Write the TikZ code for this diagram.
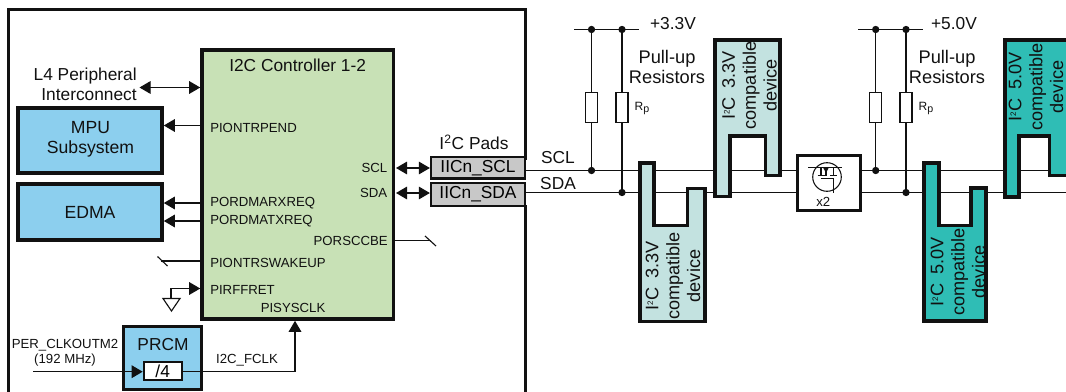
\documentclass[tikz,border=0pt]{standalone}
\usepackage{fontspec}
\setmainfont{Liberation Sans}
\usetikzlibrary{arrows.meta}
\definecolor{ctlgreen}{HTML}{C8E1B6}
\definecolor{subblue}{HTML}{8CCFEE}
\definecolor{padgray}{HTML}{C8C8C8}
\definecolor{devlight}{HTML}{C3E2E0}
\definecolor{devteal}{HTML}{2FBDB5}
\definecolor{ink}{HTML}{111111}
\newcommand\iicname{I\raisebox{0.55ex}{\fontsize{6}{6}\selectfont 2}C\hspace{0.5em}}
\tikzset{
  x=0.75pt,y=-0.75pt,
  thickbox/.style={draw=ink,line width=2.7pt},
  wire/.style={draw=ink,line width=0.85pt},
  thinwire/.style={draw=ink,line width=0.8pt},
  tip/.style={-{Triangle[length=8.3pt,width=9.5pt]}},
  dtip/.style={{Triangle[length=8.3pt,width=9.5pt]}-{Triangle[length=8.3pt,width=9.5pt]}},
  lbl/.style={inner sep=0pt,text=ink,font=\fontsize{13}{15}\selectfont,align=center},
  sig/.style={inner sep=0pt,text=ink,font=\fontsize{9.9}{11.6}\selectfont},
  dot/.style={circle,fill=ink,inner sep=0pt,minimum size=5.5pt},
  res/.style={draw=ink,line width=0.85pt,fill=white,minimum width=9pt,minimum height=22.5pt,inner sep=0pt},
  devtext/.style={inner sep=0pt,text=ink,rotate=90,font=\fontsize{13.6}{15.7}\selectfont,align=center},
  devbox/.style={draw=ink,line width=2.9pt},
  blockbox/.style={thickbox,fill=subblue,inner sep=0pt,minimum width=108pt},
  padbox/.style={draw=ink,line width=1.7pt,fill=padgray,minimum width=70.5pt,inner sep=0pt,font=\fontsize{13}{15}\selectfont},
  rplabel/.style={inner sep=0pt,text=ink,font=\fontsize{9}{10}\selectfont},
}
\begin{document}
\begin{tikzpicture}
\useasboundingbox (0,0) rectangle (1066,392);
\draw[draw=ink,line width=1.8pt] (8.3,392) -- (8.3,9.7) -- (525.6,9.7) -- (525.6,160);
\draw[draw=ink,line width=1.8pt] (525.6,205) -- (525.6,392);

% bus lines
\coordinate (sclL) at (526,170.5); \coordinate (sclR) at (1066,170.5);
\coordinate (sdaL) at (526,192.5); \coordinate (sdaR) at (1066,192.5);
\draw[wire] (sclL) -- (sclR);
\draw[wire] (sdaL) -- (sdaR);

% controller
\node[thickbox,fill=ctlgreen,minimum width=143.6pt,minimum height=201.75pt,inner sep=0pt] (ctl) at (297.75,184.5) {};
\node[lbl,anchor=west] (ctltitle) at (229,65.7) {I2C Controller 1-2};
\node[lbl,anchor=east,align=right] (l4) at (137,84) {L4 Peripheral\\Interconnect};
\coordinate (l4end) at (139.5,87.5);
\draw[wire,dtip] (l4end) -- (l4end -| ctl.west);

% MPU / EDMA
\node[blockbox,minimum height=48.75pt] (mpu) at (90,140.5) {};
\node[lbl,font=\fontsize{13.2}{15}\selectfont] (mputxt) at (90.5,139.5) {MPU\\Subsystem};
\node[blockbox,minimum height=42pt] (edma) at (90,212) {};
\node[lbl,font=\fontsize{13.2}{15}\selectfont] (edmatxt) at (90,212) {EDMA};
\coordinate (c1) at (ctl.west |- 0,125.5);
\coordinate (c2) at (ctl.west |- 0,203);
\coordinate (c3) at (ctl.west |- 0,221);
\draw[wire,tip] (c1) -- (c1 -| mpu.east);
\draw[wire,tip] (c2) -- (c2 -| edma.east);
\draw[wire,tip] (c3) -- (c3 -| edma.east);
\node[sig,anchor=west] (p1) at (210,128) {PIONTRPEND};
\node[sig,anchor=west] (p2) at (210,203) {PORDMARXREQ};
\node[sig,anchor=west] (p3) at (210,221.5) {PORDMATXREQ};
\node[sig,anchor=east] (p4) at (388,241) {PORSCCBE};
\node[sig,anchor=west] (p5) at (210,262.5) {PIONTRSWAKEUP};
\node[sig,anchor=west] (p6) at (210,290) {PIRFFRET};
\node[sig,anchor=west] (p7) at (260.5,308) {PISYSCLK};
\node[sig,anchor=east] (p8) at (387.5,168) {SCL};
\node[sig,anchor=east] (p9) at (387.5,193) {SDA};

% wake line
\coordinate (wk) at (161,261);
\coordinate (wka) at (157.5,256.5); \coordinate (wkb) at (167.5,266);
\draw[wire] (ctl.west |- wk) -- (wk);
\draw[wire] (wka) -- (wkb);
% ground
\coordinate (g1) at (171,298.5);
\coordinate (gl) at (163,298.5); \coordinate (gr) at (180,298.5); \coordinate (gb) at (171.5,311);
\draw[wire,tip] (g1) |- (ctl.west |- 0,288.5);
\draw[wire,fill=white] (gl) -- (gr) -- (gb) -- cycle;

% PORSCCBE
\coordinate (pso) at (430,240.5);
\coordinate (psa) at (425,236); \coordinate (psb) at (436,246);
\draw[wire] (ctl.east |- pso) -- (pso);
\draw[wire] (psa) -- (psb);

% PRCM
\node[thickbox,fill=subblue,line width=2.5pt,minimum width=58.5pt,minimum height=47.25pt,inner sep=0pt] (prcm) at (162.5,358) {};
\node[lbl] (prcmt) at (163,345) {PRCM};
\node[draw=ink,line width=1.5pt,fill=white,minimum width=28.5pt,minimum height=13.5pt,inner sep=0pt,font=\fontsize{13}{15}\selectfont] (div) at (162.7,371) {/4};
\coordinate (clkin) at (33,371.7);
\draw[wire,tip] (clkin) -- (clkin -| div.west);
\node[sig,anchor=center,align=center] (clkt) at (65,353) {PER\_CLKOUTM2\\(192 MHz)};
\coordinate (fcl) at (295,371.7);
\draw[wire,tip] (fcl -| div.east) -- (fcl) -- (fcl |- ctl.south);
\node[sig,anchor=center] (fclkt) at (247,360) {I2C\_FCLK};

% pads
\node[lbl,anchor=base] (padt) at (474,149.5) {I\textsuperscript{2}C Pads};
\node[padbox,minimum height=16.1pt] (scl) at (478,167.75) {IICn\_SCL};
\node[padbox,minimum height=17.25pt] (sda) at (478,194.5) {\raisebox{1.5pt}{IICn\_SDA}};
\coordinate (sclarr) at (396,168);
\coordinate (sdaarr) at (396,193);
\draw[wire,dtip] (sclarr) -- (sclarr -| scl.west);
\draw[wire,dtip] (sdaarr) -- (sdaarr -| sda.west);
\node[lbl] (sclt) at (558,157.7) {SCL};
\node[lbl] (sdat) at (558,184) {SDA};

% 3.3V rail
\coordinate (r1) at (574,29.5); \coordinate (r2) at (639,29.5);
\draw[wire] (r1) -- (r2);
\node[dot] (d1) at (591.5,29.5) {};
\node[dot] (d2) at (622,29.5) {};
\node[dot] (d3) at (591.5,170.5) {};
\node[dot] (d4) at (622,192.5) {};
\node[res] (ra) at (591.5,107.5) {};
\node[res] (rb) at (622,107.5) {};
\draw[wire] (d1) -- (ra); \draw[wire] (ra) -- (d3);
\draw[wire] (d2) -- (rb); \draw[wire] (rb) -- (d4);
\node[lbl] (v33) at (673,24) {+3.3V};
\node[lbl,font=\fontsize{13.7}{15}\selectfont] (pu1) at (667,67) {Pull-up\\Resistors};
\node[rplabel] (rp1) at (642,108.5) {R\raisebox{-1.6pt}{\fontsize{8}{8}\selectfont p}};

% 5V rail
\coordinate (r3) at (858,29.5); \coordinate (r4) at (923,29.5);
\draw[wire] (r3) -- (r4);
\node[dot] (d5) at (875.7,29.5) {};
\node[dot] (d6) at (906,29.5) {};
\node[dot] (d7) at (875.7,170.5) {};
\node[dot] (d8) at (906,192.5) {};
\node[res] (rc) at (875.7,107.5) {};
\node[res] (rd) at (906,107.5) {};
\draw[wire] (d5) -- (rc); \draw[wire] (rc) -- (d7);
\draw[wire] (d6) -- (rd); \draw[wire] (rd) -- (d8);
\node[lbl] (v50) at (954,24) {+5.0V};
\node[lbl,font=\fontsize{13.7}{15}\selectfont] (pu2) at (947,67) {Pull-up\\Resistors};
\node[rplabel] (rp2) at (926,108.5) {R\raisebox{-1.6pt}{\fontsize{8}{8}\selectfont p}};

% level shifter
\node[thickbox,fill=white,line width=2.5pt,minimum width=47.25pt,minimum height=41pt,inner sep=0pt] (ls) at (829.2,183) {};
\coordinate (mosc) at (827,177);
\draw[thinwire] (mosc) circle (14.3);
\draw[thinwire] (808,167.5) -- (842,167.5);
\draw[thinwire] (821,167.5) -- (821,175.5) (817.7,175.5) -- (825,175.5);
\draw[thinwire] (833.3,167.5) -- (833.3,175.5) (830,175.5) -- (836.7,175.5);
\draw[thinwire] (826,167.5) -- (826,175.5);
\fill[ink] (823.3,168) -- (828.5,168) -- (826,173) -- cycle;
\draw[thinwire] (820.7,178.3) -- (833.3,178.3) -- (833.3,193);
\node[sig,anchor=center] (x2) at (823.3,201.7) {x2};

% devices
\draw[devbox,fill=devlight] (639.8,163) -- (654,163) -- (654,225.5) -- (687.5,225.5) -- (687.5,188.5) -- (705.3,188.5) -- (705.3,321.5) -- (639.8,321.5) -- cycle;
\node[devtext] (t1) at (673,276) {\iicname 3.3V\\compatible\\device};

\draw[devbox,fill=devlight] (715,40) -- (780,40) -- (780,175.5) -- (765.5,175.5) -- (765.5,136) -- (730,136) -- (730,196.5) -- (715,196.5) -- cycle;
\node[devtext] (t2) at (749.5,85.5) {\iicname 3.3V\\compatible\\device};

\draw[devbox,fill=devteal] (924,163) -- (939,163) -- (939,225.5) -- (971,225.5) -- (971,188) -- (986,188) -- (986,321) -- (924,321) -- cycle;
\node[devtext] (t3) at (958,272) {\iicname 5.0V\\compatible\\device};

\draw[devbox,fill=devteal] (1072,40) -- (1004.7,40) -- (1004.7,197) -- (1019,197) -- (1019,136) -- (1049.5,136) -- (1049.5,175.5) -- (1072,175.5);
\node[devtext] (t4) at (1036,87) {\iicname 5.0V\\compatible\\device};
\end{tikzpicture}
\end{document}
